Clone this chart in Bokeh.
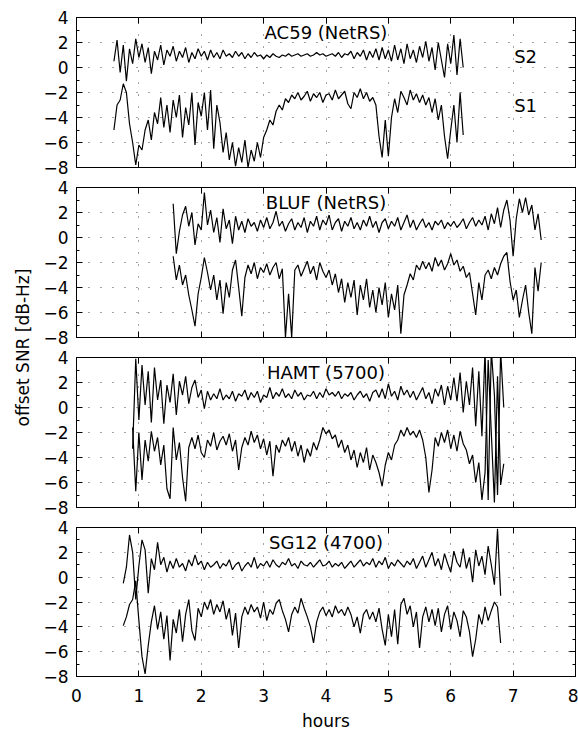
import math
from bokeh.plotting import figure
from bokeh.layouts import column, row
from bokeh.models import Range1d, LinearAxis, FixedTicker
from bokeh.core.properties import value
from bokeh.embed import file_html
from bokeh.resources import INLINE

FONT = "DejaVu Sans"
STEP = 0.05  # sampling interval in hours

stations = ["AC59 (NetRS)", "BLUF (NetRS)", "HAMT (5700)", "SG12 (4700)"]
starts = [0.60, 1.55, 0.90, 0.75]

ac59_s2 = [0.5, 2.2, -0.4, 1.8, -1.1, 1.5, 0.3, 2.3, 0.8,
           1.9, 0.4, 1.6, -0.5, 1.3, 0.6, 1.8, 0.2, 1.4, 0.9,
           1.7, 0.5, 1.3, 0.8, 1.6, 0.4, 1.2, 0.7, 1.5, 0.9,
           1.3, 0.6, 1.4, 0.8, 1.2, 0.7, 1.4, 0.9, 1.1, 0.8,
           1.3, 0.9, 1.2, 0.7, 1.1, 0.8, 1.2, 0.9, 1.0, 0.7,
           1.0, 0.8, 1.1, 0.9, 0.8, 1.0, 0.9, 1.1, 0.9, 1.0,
           1.1, 0.9, 1.0, 1.1, 0.9, 1.0, 1.2, 1.0, 1.1, 0.9,
           1.0, 1.1, 0.9, 1.2, 0.8, 1.1, 1.0, 1.3, 0.7, 1.2,
           0.9, 1.4, 0.6, 1.3, 0.8, 1.5, 0.6, 1.6, 0.7, 1.4,
           0.5, 1.8, 0.6, 1.5, 0.3, 1.9, 0.7, 1.4, 0.4, 1.7,
           0.8, 2.1, 0.5, 1.6, -0.2, 2.0, 0.6, -0.8, 1.9, 0.3,
           2.6, -0.6, 2.3, 0.0]
ac59_s1 = [-5.0, -3.0, -2.6, -1.3, -2.0, -4.5, -6.0, -7.8, -6.2,
           -6.6, -5.0, -4.2, -5.8, -3.6, -4.5, -2.4, -4.8, -3.0, -5.2,
           -2.6, -4.0, -2.2, -5.6, -3.2, -4.6, -2.0, -6.2, -2.8, -3.9,
           -2.0, -5.0, -1.8, -6.5, -3.0, -4.4, -6.8, -5.2, -7.4, -6.0,
           -7.9, -6.4, -7.6, -5.8, -8.0, -6.6, -7.5, -6.0, -7.2, -5.6,
           -5.0, -4.2, -4.6, -3.5, -3.0, -3.4, -2.5, -2.8, -2.2, -2.5,
           -2.0, -2.6, -2.3, -1.9, -2.7, -2.1, -2.4, -2.0, -2.8, -2.2,
           -2.1, -2.6, -1.8, -2.5, -2.2, -1.9, -2.9, -3.3, -2.0, -2.4,
           -1.7, -2.5, -2.0, -2.7, -2.4, -3.0, -5.5, -7.2, -4.2, -7.1,
           -4.0, -2.5, -3.6, -1.9, -2.4, -3.0, -1.8, -2.6, -2.1, -2.8,
           -2.2, -3.0, -2.4, -3.6, -2.5, -4.2, -3.0, -5.5, -7.3, -5.0,
           -3.0, -6.0, -2.0, -5.4]

bluf_s2 = [2.7, -1.3, 0.5, 1.8, 2.5, 0.9, 2.0, -0.6, 1.1, 0.6,
           3.6, 1.0, 2.2, 0.4, 1.6, -0.4, 2.3, 0.7, 1.4, -0.5,
           1.7, 0.6, 1.3, 0.4, 1.5, 0.9, 1.2, 0.5, 1.4, 0.8,
           1.6, 0.7, 1.2, 2.1, 0.9, 1.3, 0.5, 1.1, 1.5, 0.6,
           1.2, 0.8, 1.6, 0.4, 1.3, 0.9, 1.7, 0.6, 1.4, 1.0,
           1.8, 0.6, 1.2, 1.5, 0.5, 1.3, 0.9, 1.6, 0.7, 1.2,
           0.6, 1.4, 0.9, 1.7, 0.8, 1.3, 0.4, 1.2, 1.5, 0.7,
           1.3, 0.9, 1.6, 0.6, 1.2, 1.8, 0.8, 1.4, 0.6, 1.1,
           1.5, 0.8, 1.2, 0.6, 1.3, 1.0, 1.4, 0.7, 1.2, 0.9,
           1.3, 0.8, 1.1, 1.5, 0.7, 1.2, 1.6, 0.9, 1.4, 1.0,
           1.7, 0.6, 1.9, 1.1, 2.4, 0.8, 2.2, 3.0, 1.4, -1.5,
           1.5, 3.1, 2.0, 3.2, 1.8, 2.6, 0.6, 1.9, -0.2]
bluf_s1 = [-1.5, -3.4, -2.2, -3.8, -3.0, -4.6, -5.8, -7.1, -4.5, -3.2,
           -1.6, -2.8, -4.2, -3.0, -5.0, -3.4, -6.1, -3.6, -4.8, -2.6,
           -1.8, -4.0, -6.3, -3.2, -2.2, -2.9, -2.0, -3.3, -2.4, -2.8,
           -2.1, -3.0, -2.4, -2.0, -3.3, -2.5, -8.0, -4.5, -8.0, -2.6,
           -2.2, -3.1, -2.5, -1.9, -2.9, -2.3, -3.4, -2.0, -2.7, -3.2,
           -2.6, -3.8, -2.9, -4.4, -3.3, -5.2, -3.6, -4.8, -3.4, -6.2,
           -3.8, -5.0, -3.3, -5.6, -4.2, -6.0, -4.0, -5.4, -3.6, -6.4,
           -4.5, -5.8, -3.8, -7.7, -4.6, -3.8, -2.9, -3.4, -2.2, -2.6,
           -1.9, -2.5, -2.0, -2.7, -1.6, -2.3, -1.8, -2.6, -2.1, -1.3,
           -2.2, -1.8, -2.7, -2.3, -3.2, -2.8, -4.5, -6.2, -3.6, -5.0,
           -3.0, -2.6, -3.3, -2.4, -3.0, -2.1, -1.5, -1.2, -3.5, -5.0,
           -4.2, -6.4, -5.0, -3.8, -6.0, -7.7, -2.4, -4.3, -2.0]

hamt_s2 = [-3.3, 3.9, -1.0, 3.4, 0.2, 2.9, -1.2, 3.2, 0.6, 2.2,
           -1.3, 1.8, 0.4, 2.7, -0.6, 2.1, 1.0, 2.5, 0.3, 1.6,
           2.2, 0.8, 1.4, -0.1, 1.3, 0.6, 1.1, 0.7, 1.5, 0.6,
           1.0, 0.7, 1.3, 0.5, 1.1, 0.9, 1.4, 0.6, 1.2, 0.8,
           1.3, 0.4, 1.0, 0.8, 1.6, 0.7, 1.2, 0.9, 1.5, 0.8,
           1.1, 0.7, 1.4, 0.9, 1.2, 0.6, 1.0, 0.9, 1.3, 0.7,
           1.2, 0.8, 1.5, 1.0, 1.2, 0.9, 1.3, 0.7, 1.1, 0.9,
           1.2, 0.6, 1.0, 1.3, 0.8, 1.1, 0.5, 1.2, 1.4, 0.8,
           1.5, 0.7, 1.9, 0.9, 1.3, 0.6, 1.7, 1.0, 1.4, 0.8,
           1.3, 0.6, 1.1, 1.6, 0.7, 1.2, 0.3, 1.5, 0.9, 1.8,
           0.2, 1.7, 0.6, 2.4, 0.5, 2.8, -0.4, 2.1, 0.2, 3.2,
           -1.5, 2.9, -2.3, 4.6, -7.4, 4.6, 1.0, -7.0, 4.5, 0.0]
hamt_s1 = [-1.6, -6.7, -2.0, -5.8, -2.6, -4.3, -1.9, -3.5, -2.4, -4.6,
           -3.0, -6.5, -7.3, -1.6, -4.2, -2.8, -5.6, -7.5, -3.2, -2.4,
           -3.3, -2.2, -3.6, -4.0, -2.6, -3.1, -2.0, -3.4, -2.7, -2.3,
           -3.0, -2.1, -3.5, -2.6, -5.0, -3.2, -2.4, -3.0, -1.9, -2.8,
           -2.2, -3.3, -2.5, -3.8, -2.7, -5.5, -3.0, -3.6, -2.6, -3.1,
           -2.4, -3.5, -2.7, -3.9, -3.0, -4.4, -3.3, -3.9, -2.8, -3.4,
           -2.6, -1.6, -2.1, -1.8, -2.5, -2.2, -3.2, -2.6, -3.6, -3.0,
           -4.2, -3.4, -4.8, -3.6, -4.4, -3.2, -5.0, -3.8, -4.4, -5.2,
           -6.3, -4.6, -3.6, -4.2, -3.0, -2.6, -1.8, -2.3, -1.6, -2.2,
           -1.9, -2.4, -1.8, -2.6, -4.0, -6.8, -5.0, -2.4, -3.1, -2.0,
           -2.8, -1.8, -3.3, -2.2, -3.5, -1.9, -2.9, -3.4, -4.5, -3.8,
           -6.0, -4.4, -7.4, -5.2, 3.8, -2.0, -7.6, 2.5, -6.2, -4.5]

sg12_s2 = [-0.5, 0.8, 3.4, 2.0, -1.8, 0.9, 3.0, 2.2, -1.3, 1.5,
           0.6, 2.8, 1.0, 1.6, 0.4, 1.3, 0.7, 1.5, 0.8, 1.1,
           0.5, 1.4, 0.9, 1.8, 1.0, 1.3, 0.6, 1.2, 0.8, 1.0,
           1.3, 0.7, 1.1, 0.9, 1.4, 0.6, 1.0, 1.2, 0.5, 0.9,
           1.2, 0.8, 1.6, 0.7, 1.1, 0.9, 1.3, 0.8, 1.4, 1.0,
           0.8, 1.2, 1.0, 1.5, 0.9, 1.1, 0.7, 1.3, 1.0, 0.9,
           1.2, 0.8, 1.1, 1.4, 0.9, 1.0, 1.3, 0.8, 1.1, 0.9,
           1.2, 0.7, 1.0, 1.3, 0.8, 1.1, 1.4, 0.9, 1.2, 1.0,
           1.5, 0.8, 1.3, 1.0, 1.6, 0.7, 1.2, 0.9, 1.4, 1.1,
           0.8, 1.3, 1.0, 1.5, 0.7, 1.2, 1.7, 0.8, 1.4, 2.0,
           0.9, 1.5, 0.6, 1.9, 1.1, 0.4, 2.1, 1.2, 0.8, 2.3,
           0.7, 1.6, -0.4, 2.2, 0.9, 1.7, 0.2, 2.5, 1.0, -0.6,
           3.9, -1.5]
sg12_s1 = [-3.9, -3.2, -2.2, -1.8, -0.3, -3.5, -6.4, -7.8, -5.5, -3.6,
           -2.3, -4.2, -2.8, -5.0, -3.1, -6.7, -3.4, -4.5, -2.6, -5.2,
           -3.0, -1.8, -4.3, -5.1, -2.5, -3.2, -2.0, -2.6, -1.8, -3.0,
           -2.2, -2.8, -1.9, -3.4, -2.5, -4.7, -2.9, -5.7, -3.2, -2.4,
           -3.0, -2.2, -2.8, -2.4, -3.3, -2.0, -3.5, -2.6, -3.0, -2.1,
           -1.8, -2.7, -3.4, -4.4, -3.0, -2.4, -2.9, -1.7, -2.5, -3.2,
           -4.0, -5.3, -3.6, -2.8, -2.4, -3.1, -2.6, -3.2, -2.3, -2.9,
           -2.6, -3.1, -2.4, -3.0, -4.0, -3.2, -4.5, -3.0, -2.6, -3.4,
           -2.8, -3.6, -2.5, -4.2, -5.5, -3.0, -4.8, -2.6, -5.4, -2.2,
           -1.7, -3.0, -2.3, -4.0, -2.8, -5.7, -3.2, -2.4, -3.6, -2.6,
           -3.9, -2.5, -4.4, -3.0, -2.3, -4.2, -2.8, -3.5, -4.8, -2.7,
           -3.2, -4.4, -6.4, -5.0, -3.0, -3.8, -2.4, -3.5, -2.7, -2.0,
           -2.4, -5.3]

series_s2 = [ac59_s2, bluf_s2, hamt_s2, sg12_s2]
series_s1 = [ac59_s1, bluf_s1, hamt_s1, sg12_s1]

x_ticks = [0, 1, 2, 3, 4, 5, 6, 7, 8]
y_ticks = [-8, -6, -4, -2, 0, 2, 4]
y_minor = [-7, -5, -3, -1, 1, 3]
y_tick_labels = {t: (f"\u2212{abs(t)}" if t < 0 else str(t)) for t in y_ticks}
curve_labels = ["S2", "S1"]
curve_label_pos = [(7.2, 0.9), (7.2, -3.0)]

LEFT_W = 40
PANEL_W = 578 - LEFT_W
borders = [(17, 10), (10, 10), (10, 10), (10, 55)]
frame_h = [150, 150, 150, 151]
TOTAL_H = sum(t + f + b for (t, b), f in zip(borders, frame_h))


def style_axis(ax, ticker, show_labels, standoff):
    ax.ticker = ticker
    ax.axis_line_color = "black"
    ax.axis_line_width = 1
    ax.major_tick_line_color = "black"
    ax.minor_tick_line_color = "black"
    ax.major_tick_in = 6
    ax.major_tick_out = 0
    ax.minor_tick_in = 3
    ax.minor_tick_out = 0
    ax.major_label_text_font = FONT
    if show_labels:
        ax.major_label_text_color = "black"
        ax.major_label_text_font_size = "17px"
        ax.major_label_standoff = standoff
    else:
        ax.major_label_text_color = None
        ax.major_label_text_alpha = 0
        ax.major_label_text_font_size = "1px"
        ax.major_label_standoff = 0


panels = []
for k in range(4):
    top, bot = borders[k]
    p = figure(width=PANEL_W, height=top + frame_h[k] + bot,
               x_range=Range1d(0, 8), y_range=Range1d(-8, 4),
               output_backend="svg", toolbar_location=None,
               min_border_left=35, min_border_right=3,
               min_border_top=top, min_border_bottom=bot,
               background_fill_color="white", border_fill_color="white")
    p.outline_line_color = "black"
    xt = FixedTicker(ticks=x_ticks)
    yt = FixedTicker(ticks=y_ticks, minor_ticks=y_minor)
    last = (k == 3)
    style_axis(p.xaxis[0], xt, last, 12)
    style_axis(p.yaxis[0], yt, True, 8)
    p.yaxis[0].major_label_overrides = y_tick_labels
    if last:
        p.xaxis[0].axis_label = "hours"
        p.xaxis[0].axis_label_text_font = FONT
        p.xaxis[0].axis_label_text_font_size = "17px"
        p.xaxis[0].axis_label_text_font_style = "normal"
        p.xaxis[0].axis_label_text_color = "black"
        p.xaxis[0].axis_label_standoff = 6
    ax_top = LinearAxis()
    style_axis(ax_top, FixedTicker(ticks=x_ticks), False, 0)
    p.add_layout(ax_top, "above")
    ax_right = LinearAxis()
    style_axis(ax_right, FixedTicker(ticks=y_ticks, minor_ticks=y_minor), False, 0)
    p.add_layout(ax_right, "right")

    for g in (p.xgrid[0], p.ygrid[0]):
        g.grid_line_color = "#444444"
        g.grid_line_dash = "1 11"
        g.grid_line_width = 1

    for vals in (series_s2[k], series_s1[k]):
        t = [round(starts[k] + STEP * i, 3) for i in range(len(vals))]
        p.line(t, vals, line_color="black", line_width=1.2)

    p.text(x=[4.0], y=[4.0], text=[stations[k]], text_align="center",
           text_baseline="top", y_offset=4, text_font=value(FONT),
           text_font_size="18px", text_color="black")
    if k == 0:
        p.text(x=[pos[0] for pos in curve_label_pos], y=[pos[1] for pos in curve_label_pos],
               text=curve_labels, text_align="center", text_baseline="middle",
               text_font=value(FONT), text_font_size="18px", text_color="black")
    panels.append(p)

lab = figure(width=LEFT_W, height=TOTAL_H, x_range=Range1d(0, LEFT_W), y_range=Range1d(0, TOTAL_H),
             output_backend="svg", toolbar_location=None, min_border=0,
             x_axis_location=None, y_axis_location=None)
lab.outline_line_color = None
lab.xgrid.visible = False
lab.ygrid.visible = False
lab.text(x=[22], y=[TOTAL_H - 347], text=["offset SNR [dB-Hz]"], angle=math.pi / 2,
         text_align="center", text_baseline="middle", text_font=value(FONT),
         text_font_size="17px", text_color="black")

layout = row(lab, column(*panels, spacing=0), spacing=0)
open("out.html", "w").write(file_html(layout, INLINE))
